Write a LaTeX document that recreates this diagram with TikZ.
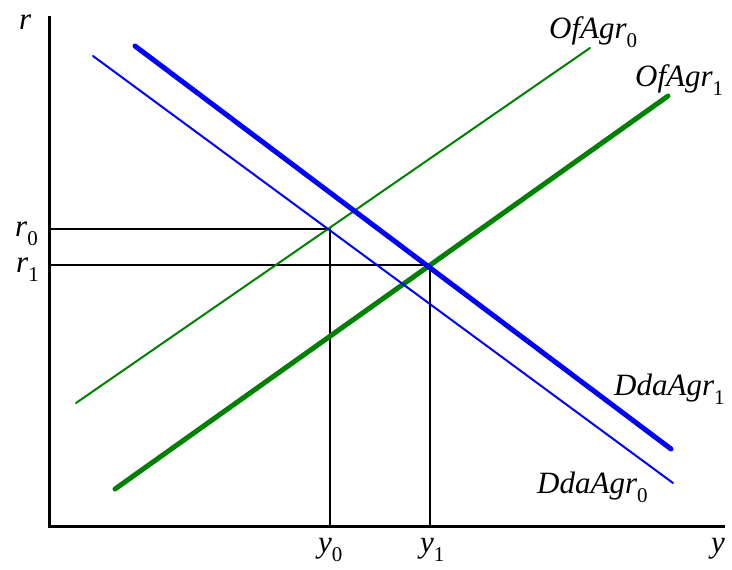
\documentclass[tikz,border=0pt]{standalone}
\usepackage{fontspec}
\setmainfont{Liberation Serif}
\newcommand{\mylab}[2]{{\fontsize{31}{31}\selectfont\itshape #1}\raisebox{-9pt}{\fontsize{21}{21}\selectfont #2}}
\newcommand{\mysym}[1]{{\fontsize{31}{31}\selectfont\itshape #1}}
\definecolor{cblue}{RGB}{0,0,255}
\definecolor{cgreen}{RGB}{0,128,0}
\tikzset{
  axis/.style={black, line width=3pt},
  guide/.style={black, line width=1.3pt},
  thinblue/.style={cblue, line width=2pt, line cap=round},
  thickblue/.style={cblue, line width=5pt, line cap=round},
  thingreen/.style={cgreen, line width=2pt, line cap=round},
  thickgreen/.style={cgreen, line width=5pt, line cap=round},
  lab/.style={inner sep=0pt, anchor=base west},
}
\begin{document}
\begin{tikzpicture}[x=1pt,y=-1pt]
\useasboundingbox (0,0) rectangle (732,570);
% coordinates
\coordinate (top) at (49,16);
\coordinate (orig) at (49,526);
\coordinate (xend) at (725,526);
\coordinate (E0) at (330,229);
\coordinate (E1) at (430,265);
\coordinate (r0a) at (49,229);
\coordinate (r1a) at (49,265);
\coordinate (y0a) at (330,526);
\coordinate (y1a) at (430,526);
\coordinate (D0s) at (93,56);
\coordinate (D0e) at (673,483);
\coordinate (D1s) at (135,46);
\coordinate (D1e) at (671,449);
\coordinate (O0s) at (76,403);
\coordinate (O0e) at (590,48);
\coordinate (O1s) at (115,489);
\coordinate (O1e) at (668,96);
% guides
\draw[guide] (r0a) -- (E0) -- (y0a);
\draw[guide] (r1a) -- (E1) -- (y1a);
% curves
\draw[thingreen] (O0s) -- (O0e);
\draw[thickgreen] (O1s) -- (O1e);
\draw[thinblue] (D0s) -- (D0e);
\draw[thickblue] (D1s) -- (D1e);
% axes
\draw[axis] (top) -- (orig) -- (xend);
% labels
\node[lab] (lr) at (19,30) {\mysym{r}};
\node[lab] (lr0) at (15,236) {\mylab{r}{0}};
\node[lab] (lr1) at (16,272) {\mylab{r}{1}};
\node[lab] (ly0) at (318,552) {\mylab{y}{0}};
\node[lab] (ly1) at (420,552) {\mylab{y}{1}};
\node[lab] (ly) at (711,552) {\mysym{y}};
\node[lab] (lO0) at (549,38) {\mylab{OfAgr}{0}};
\node[lab] (lO1) at (635,86) {\mylab{OfAgr}{1}};
\node[lab] (lD1) at (614,395) {\mylab{DdaAgr}{1}};
\node[lab] (lD0) at (537,493) {\mylab{DdaAgr}{0}};
\end{tikzpicture}
\end{document}
